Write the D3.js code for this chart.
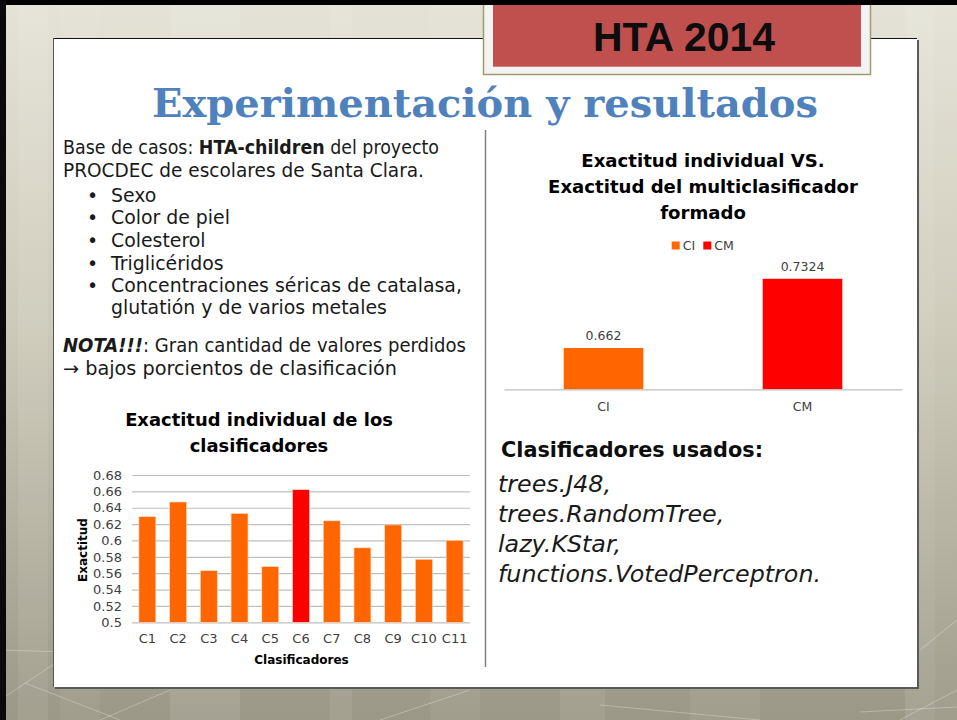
<!DOCTYPE html>
<html>
<head>
<meta charset="utf-8">
<script src="https://cdn.jsdelivr.net/npm/d3@7"></script>
<style>
  html, body { margin: 0; padding: 0; overflow: hidden; background: #fff; }
  svg { display: block; }
</style>
</head>
<body>
<svg id="slide"></svg>
<script>
// ---- chart data ----
const classifiers = ["C1", "C2", "C3", "C4", "C5", "C6", "C7", "C8", "C9", "C10", "C11"];
const accuracy = [0.629, 0.647, 0.563, 0.633, 0.568, 0.662, 0.624, 0.591, 0.619, 0.577, 0.600];
const bestClassifier = "C6";
const accTicks = [0.5, 0.52, 0.54, 0.56, 0.58, 0.6, 0.62, 0.64, 0.66, 0.68];

const compareCats = ["CI", "CM"];
const compareVals = [0.662, 0.7324];
const compareLabels = ["0.662", "0.7324"];

// ---- slide text ----
const slideBadge = "HTA 2014";
const slideTitle = "Experimentación y resultados";
const bulletItems = ["Sexo", "Color de piel", "Colesterol", "Triglicéridos",
  "Concentraciones séricas de catalasa,"];
const leftTitle = ["Exactitud individual de los", "clasificadores"];
const rightTitle = ["Exactitud individual VS.", "Exactitud del multiclasificador", "formado"];
const usedHeading = "Clasificadores usados:";
const usedList = ["trees.J48,", "trees.RandomTree,", "lazy.KStar,", "functions.VotedPerceptron."];

const W = 957, H = 720;
const SANS = "'Century Gothic', 'DejaVu Sans', sans-serif";
const ORANGE = "#ff6600", RED = "#ff0000", TXT = "#404040";

const svg = d3.select("#slide").attr("width", W).attr("height", H);

// scale font-size of a group of texts so a reference line fits a width
function fitBlock(sel, refNode, width) {
  const L = refNode.getComputedTextLength();
  const k = width / L;
  sel.each(function() {
    const t = d3.select(this);
    t.attr("font-size", parseFloat(t.attr("font-size")) * k);
  });
}
// squeeze a single line to a width
function squeeze(sel, width) {
  sel.attr("textLength", width).attr("lengthAdjust", "spacingAndGlyphs");
}

// ---- background ----
const defs = svg.append("defs");
const g1 = defs.append("linearGradient").attr("id", "bg").attr("x1", 0).attr("y1", 0).attr("x2", 0).attr("y2", 1);
g1.append("stop").attr("offset", "0%").attr("stop-color", "#e5e3d7");
g1.append("stop").attr("offset", "45%").attr("stop-color", "#cdcab9");
g1.append("stop").attr("offset", "100%").attr("stop-color", "#9c9887");
svg.append("rect").attr("width", W).attr("height", H).attr("fill", "url(#bg)");

// soft vertical stripes
[[18, 30, 0.08], [60, 40, 0.05], [170, 70, 0.1], [330, 22, 0.08], [430, 50, 0.05],
 [560, 45, 0.07], [690, 70, 0.06], [905, 30, 0.1], [935, 22, 0.05]].forEach(s => {
  svg.append("rect").attr("x", s[0]).attr("y", 0).attr("width", s[1]).attr("height", H)
    .attr("fill", "#fff").attr("opacity", s[2]);
});
// faint light lines
const bgLines = svg.append("g").attr("stroke", "#fff").attr("stroke-opacity", 0.28).attr("stroke-width", 1);
[[0, 650, 160, 655], [25, 683, 120, 720], [100, 720, 170, 690], [0, 700, 90, 640],
 [860, 712, 957, 707], [900, 720, 957, 690], [920, 650, 957, 620], [380, 720, 470, 690],
 [600, 705, 760, 720]].forEach(l => {
  bgLines.append("line").attr("x1", l[0]).attr("y1", l[1]).attr("x2", l[2]).attr("y2", l[3]);
});

// ---- white panel ----
svg.append("rect").attr("x", 55).attr("y", 40).attr("width", 864).attr("height", 649).attr("fill", "#5a5a5a");
svg.append("rect").attr("x", 53).attr("y", 38).attr("width", 864).attr("height", 649).attr("fill", "#fff");
svg.append("line").attr("x1", 53).attr("y1", 38.5).attr("x2", 917).attr("y2", 38.5).attr("stroke", "#111");
svg.append("line").attr("x1", 53.5).attr("y1", 38).attr("x2", 53.5).attr("y2", 687).attr("stroke", "#555");

// ---- badge ----
svg.append("rect").attr("x", 483.5).attr("y", -2).attr("width", 387).attr("height", 76.5)
  .attr("fill", "#f3f3f3").attr("stroke", "#a19a6c").attr("stroke-width", 1.5);
svg.append("rect").attr("x", 493).attr("y", 0).attr("width", 368).attr("height", 66.7).attr("fill", "#c0504d");
const badge = svg.append("text").attr("x", 684).attr("y", 51).attr("text-anchor", "middle")
  .attr("font-family", "'Liberation Sans', Arial, sans-serif").attr("font-weight", "bold")
  .attr("font-size", 40).attr("fill", "#0d0d0d").text(slideBadge);
fitBlock(badge, badge.node(), 182);

// frame edges
svg.append("rect").attr("x", 0).attr("y", 0).attr("width", W).attr("height", 5).attr("fill", "#000");
svg.append("rect").attr("x", 0).attr("y", 0).attr("width", 6).attr("height", H).attr("fill", "#0a0a0a");

// ---- main title ----
const title = svg.append("text").attr("x", 485).attr("y", 117).attr("text-anchor", "middle")
  .attr("font-family", "'DejaVu Serif', Georgia, serif").attr("font-weight", "bold")
  .attr("font-size", 40).attr("fill", "#4f81bd").text(slideTitle);
fitBlock(title, title.node(), 666);

// ---- left text block ----
const leftG = svg.append("g").attr("font-family", SANS).attr("fill", "#1a1a1a");
const t1 = leftG.append("text").attr("x", 63).attr("y", 154).attr("font-size", 16);
t1.append("tspan").text("Base de casos: ");
t1.append("tspan").attr("font-weight", "bold").text("HTA-children");
t1.append("tspan").text(" del proyecto");
const t1b = leftG.append("text").attr("x", 63).attr("y", 176.7).attr("font-size", 16)
  .text("PROCDEC de escolares de Santa Clara.");
bulletItems.forEach((b, i) => {
  const y = 201.7 + i * 22.6;
  leftG.append("text").attr("x", 87).attr("y", y).attr("font-size", 16).text("•");
  leftG.append("text").attr("class", "bul").attr("x", 111).attr("y", y).attr("font-size", 16).text(b);
});
leftG.append("text").attr("x", 111).attr("y", 314.3).attr("font-size", 16)
  .text("glutatión y de varios metales");
const t2 = leftG.append("text").attr("x", 63).attr("y", 352.3).attr("font-size", 16);
t2.append("tspan").attr("font-weight", "bold").attr("font-style", "italic").text("NOTA!!!");
t2.append("tspan").text(": Gran cantidad de valores perdidos");
const t3 = leftG.append("text").attr("x", 63).attr("y", 375).attr("font-size", 16)
  .text("→ bajos porcientos de clasificación");
fitBlock(leftG.selectAll("text"), leftG.selectAll(".bul").nodes()[4], 351);
squeeze(t1, 376);
squeeze(t1b, 361);
squeeze(t2, 403);
squeeze(t3, 334);

// divider
svg.append("line").attr("x1", 485.5).attr("y1", 130).attr("x2", 485.5).attr("y2", 667)
  .attr("stroke", "#7f7f7f").attr("stroke-width", 1.5);

// ---- left chart: individual accuracy ----
const lt = svg.append("g").attr("font-family", SANS).attr("font-weight", "bold").attr("fill", "#000")
  .attr("text-anchor", "middle");
leftTitle.forEach((s, i) => {
  lt.append("text").attr("x", 259).attr("y", 426 + i * 25.7).attr("font-size", 19).text(s);
});
fitBlock(lt.selectAll("text"), lt.select("text").node(), 268);

const x1 = d3.scaleBand().domain(classifiers).range([132, 470]).paddingInner(0.45).paddingOuter(0.225);
const y1 = d3.scaleLinear().domain([0.5, 0.68]).range([622.3, 475]);

const yAx = svg.append("g").attr("transform", "translate(132,0)")
  .call(d3.axisLeft(y1).tickValues(accTicks).tickSizeInner(-338).tickSizeOuter(0).tickPadding(10)
    .tickFormat(d => String(+d.toFixed(2))));
yAx.select(".domain").remove();
yAx.selectAll(".tick line").attr("stroke", "#bfbfbf").attr("stroke-width", 1.2);
yAx.selectAll(".tick text").attr("font-family", SANS).attr("font-size", 13).attr("fill", TXT);

svg.append("g").selectAll("rect").data(classifiers).join("rect")
  .attr("x", d => x1(d))
  .attr("y", (d, i) => y1(accuracy[i]))
  .attr("width", x1.bandwidth())
  .attr("height", (d, i) => y1(0.5) - y1(accuracy[i]))
  .attr("fill", d => d === bestClassifier ? RED : ORANGE)
  .attr("stroke", "#ffd9c0").attr("stroke-width", 0.6);

const xAx = svg.append("g").attr("transform", "translate(0,622.3)")
  .call(d3.axisBottom(x1).tickSize(0).tickPadding(11.5));
xAx.select(".domain").remove();
xAx.selectAll(".tick text").attr("font-family", SANS).attr("font-size", 13).attr("fill", TXT);

svg.append("text").attr("transform", "translate(87,550) rotate(-90)").attr("text-anchor", "middle")
  .attr("font-family", SANS).attr("font-weight", "bold").attr("font-size", 12).attr("fill", "#000")
  .text("Exactitud");
svg.append("text").attr("x", 301.5).attr("y", 664).attr("text-anchor", "middle")
  .attr("font-family", SANS).attr("font-weight", "bold").attr("font-size", 12).attr("fill", "#000")
  .text("Clasificadores");

// ---- right chart: individual vs ensemble ----
const rt = svg.append("g").attr("font-family", SANS).attr("font-weight", "bold").attr("fill", "#000")
  .attr("text-anchor", "middle");
rightTitle.forEach((s, i) => {
  rt.append("text").attr("x", 703).attr("y", 166.7 + i * 25.9).attr("font-size", 19).text(s);
});
fitBlock(rt.selectAll("text"), rt.selectAll("text").nodes()[1], 310);

const x2 = d3.scaleBand().domain(compareCats).range([504, 902]).paddingInner(0.6).paddingOuter(0.3);
const y2 = d3.scaleLinear().domain([0.62, 0.74]).range([389.3, 271.3]);
const colors2 = d3.scaleOrdinal().domain(compareCats).range([ORANGE, RED]);

// legend
const lg = svg.append("g").attr("font-family", SANS).attr("font-size", 12.5).attr("fill", TXT);
const legX = [671.7, 703.3];
compareCats.forEach((c, i) => {
  lg.append("rect").attr("x", legX[i]).attr("y", 241.5).attr("width", 8).attr("height", 8).attr("fill", colors2(c));
  lg.append("text").attr("x", legX[i] + 11).attr("y", 249.5).text(c);
});

svg.append("g").selectAll("rect").data(compareCats).join("rect")
  .attr("x", d => x2(d))
  .attr("y", (d, i) => y2(compareVals[i]))
  .attr("width", x2.bandwidth())
  .attr("height", (d, i) => y2(0.62) - y2(compareVals[i]))
  .attr("fill", d => colors2(d));

svg.append("g").selectAll("text").data(compareCats).join("text")
  .attr("x", d => x2(d) + x2.bandwidth() / 2)
  .attr("y", (d, i) => y2(compareVals[i]) - 8)
  .attr("text-anchor", "middle").attr("font-family", SANS).attr("font-size", 12.5).attr("fill", TXT)
  .text((d, i) => compareLabels[i]);

const xAx2 = svg.append("g").attr("transform", "translate(0,389.3)")
  .call(d3.axisBottom(x2).tickSize(0).tickPadding(12.5));
xAx2.select(".domain").attr("stroke", "#bfbfbf").attr("stroke-width", 1.2);
xAx2.selectAll(".tick text").attr("font-family", SANS).attr("font-size", 12.5).attr("fill", TXT);

// ---- used classifiers ----
const uh = svg.append("text").attr("x", 501).attr("y", 456.7).attr("font-family", SANS)
  .attr("font-weight", "bold").attr("font-size", 20).attr("fill", "#0d0d0d").text(usedHeading);
fitBlock(uh, uh.node(), 262);
const ul = svg.append("g").attr("font-family", SANS).attr("font-style", "italic").attr("fill", "#1a1a1a");
usedList.forEach((s, i) => {
  ul.append("text").attr("x", 498).attr("y", 492 + i * 30).attr("font-size", 20).text(s);
});
fitBlock(ul.selectAll("text"), ul.selectAll("text").nodes()[3], 323);
</script>
</body>
</html>
